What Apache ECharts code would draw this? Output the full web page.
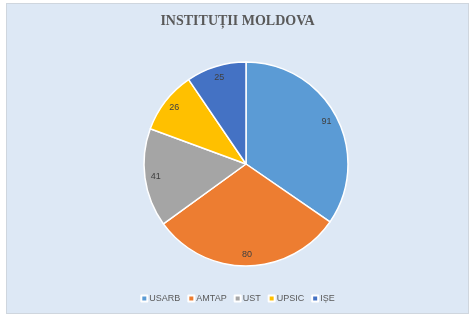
<!DOCTYPE html>
<html><head><meta charset="utf-8">
<script src="https://cdn.jsdelivr.net/npm/echarts@6/dist/echarts.min.js"></script>
<style>
html,body{margin:0;padding:0;background:#ffffff;}
#c{position:absolute;left:6px;top:3px;width:463px;height:311px;background:#dde8f5;border:1px solid #cfd6de;box-sizing:border-box;}
</style></head>
<body><div id="c"></div>
<script>
const categories = ['USARB','AMTAP','UST','UPSIC','IȘE'];
const values = [91,80,41,26,25];
const colors = ['#5b9bd5','#ed7d31','#a5a5a5','#ffc000','#4472c4'];
const titleText = 'INSTITUȚII MOLDOVA';

const chart = echarts.init(document.getElementById('c'));
const data = categories.map((n,i)=>({name:n,value:values[i],itemStyle:{color:colors[i]}}));
chart.setOption({
  animation:false,
  title:{text:titleText,left:'center',top:5,textStyle:{fontFamily:'Liberation Serif',fontWeight:'bold',fontSize:14,color:'#595959'}},
  legend:{bottom:5,left:'center',itemWidth:6,itemHeight:6,itemGap:7,icon:'rect',
    textStyle:{fontSize:9,color:'#595959',fontFamily:'Liberation Sans',padding:[0,0,0,-3]},data:categories},
  series:[
    {type:'pie',center:[239,160],radius:[0,102],startAngle:90,clockwise:true,silent:true,
     itemStyle:{borderColor:'#ffffff',borderWidth:1.5},label:{show:false},labelLine:{show:false},data:data},
    {type:'pie',center:[239,160],radius:[74,102],startAngle:90,clockwise:true,silent:true,legendHoverLink:false,
     itemStyle:{color:'rgba(0,0,0,0)',borderWidth:0},
     label:{show:true,position:'inside',formatter:'{c}',fontSize:9,color:'#404040',fontFamily:'Liberation Sans'},
     labelLine:{show:false},data:categories.map((n,i)=>({name:n,value:values[i],itemStyle:{color:'rgba(0,0,0,0)'}}))}
  ]
});
</script></body></html>
